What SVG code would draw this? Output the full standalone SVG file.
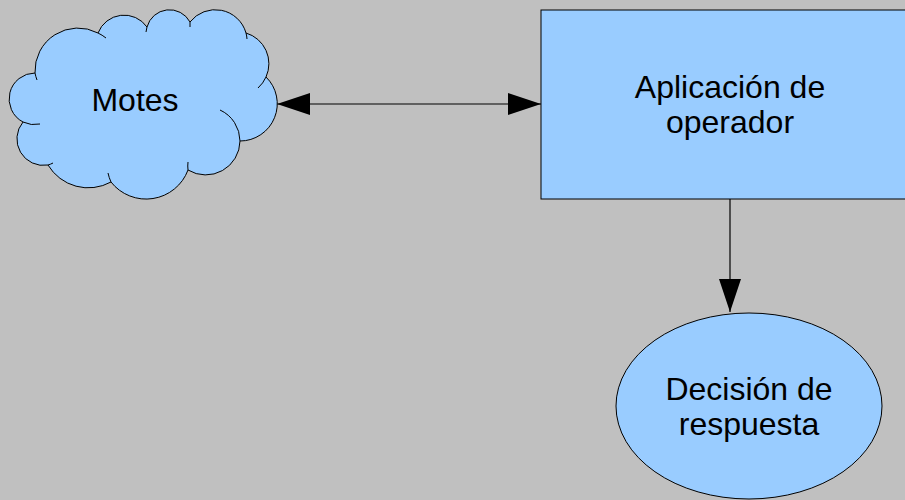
<svg xmlns="http://www.w3.org/2000/svg" width="905" height="500" viewBox="0 0 905 500">
  <style>
    .shape { fill: #99ccff; stroke: #000000; stroke-width: 1; }
    .hook { fill: none; stroke: #000000; stroke-width: 1; }
    .label { font-family: "Liberation Sans", Arial, sans-serif; font-size: 32px; fill: #000000; text-anchor: middle; }
    .edge { fill: none; stroke: #000000; stroke-width: 1.2; }
  </style>
  <defs>
    <marker id="arrow" viewBox="0 0 33 22" refX="33" refY="11" markerWidth="33" markerHeight="22" markerUnits="userSpaceOnUse" orient="auto-start-reverse">
      <path d="M0,0 L33,11 L0,22 Z" fill="#000000"/>
    </marker>
  </defs>
  <rect x="0" y="0" width="905" height="500" fill="#c0c0c0"/>

  <g id="connectors">
    <line class="edge" x1="277" y1="104" x2="541" y2="104" marker-start="url(#arrow)" marker-end="url(#arrow)"/>
    <line class="edge" x1="730" y1="199" x2="730" y2="312" marker-end="url(#arrow)"/>
  </g>

  <g id="motes">
    <!-- cloud outline: eleven circular lobes -->
    <path class="shape" d="M35,73 A43,43 0 0 1 98,33 A28,28 0 0 1 147,27 A23.3,23.3 0 0 1 190,22 A32,32 0 0 1 246,33 A32,32 0 0 1 266,77 A37.3,37.3 0 0 1 240,141 A34.3,34.3 0 0 1 188,170 A44.7,44.7 0 0 1 111,182 A47,47 0 0 1 48,165 A26.5,26.5 0 0 1 23,122 A26,26 0 0 1 35,73 Z"/>
    <!-- lobe ends running into the cloud -->
    <path class="hook" d="M37,80 A43,43 0 0 1 35,73"/>
    <path class="hook" d="M98,33 A43,43 0 0 1 106,38"/>
    <path class="hook" d="M147,27 L146,32"/>
    <path class="hook" d="M190,22 L190,27"/>
    <path class="hook" d="M246,33 A32,32 0 0 1 247,39"/>
    <path class="hook" d="M266,77 A32,32 0 0 1 258,88"/>
    <path class="hook" d="M220,110 A34.3,34.3 0 0 1 240,141"/>
    <path class="hook" d="M188,170 A34.3,34.3 0 0 1 188,162"/>
    <path class="hook" d="M111,182 A44.7,44.7 0 0 1 108,173"/>
    <path class="hook" d="M53,163 A26.5,26.5 0 0 1 48,165"/>
    <path class="hook" d="M40,124 A26,26 0 0 1 23,122"/>
    <text class="label" x="135" y="111">Motes</text>
  </g>

  <g id="aplicacion">
    <rect class="shape" x="541" y="10" width="380" height="189"/>
    <text class="label" x="730" y="98">Aplicación de</text>
    <text class="label" x="730" y="133">operador</text>
  </g>

  <g id="decision">
    <ellipse class="shape" cx="749" cy="406" rx="133" ry="93"/>
    <text class="label" x="749" y="400">Decisión de</text>
    <text class="label" x="749" y="435">respuesta</text>
  </g>
</svg>
